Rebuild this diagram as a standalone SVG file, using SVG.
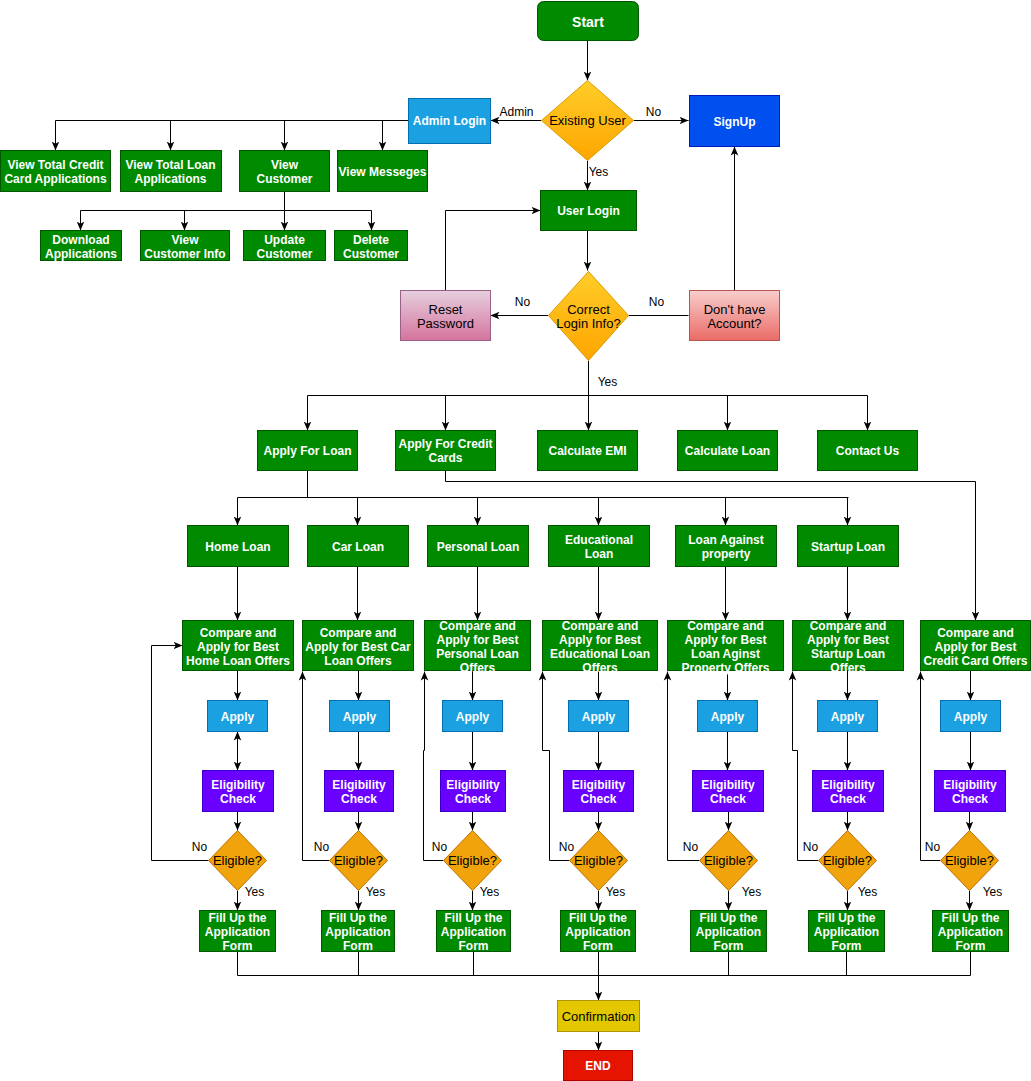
<svg xmlns="http://www.w3.org/2000/svg" width="1031" height="1081" viewBox="0 0 1031 1081">
<defs>
  <marker id="arr" viewBox="0 0 10 10" refX="10" refY="5" markerWidth="9" markerHeight="9" markerUnits="userSpaceOnUse" orient="auto-start-reverse">
    <path d="M0,0.8 L10,5 L0,9.2 L2.6,5 Z" fill="#000"/>
  </marker>
  <linearGradient id="gYel" x1="0" y1="0" x2="0" y2="1">
    <stop offset="0" stop-color="#ffcd28"/>
    <stop offset="1" stop-color="#ffa500"/>
  </linearGradient>
  <linearGradient id="gPink" x1="0" y1="0" x2="0" y2="1">
    <stop offset="0" stop-color="#e6d0de"/>
    <stop offset="1" stop-color="#d5739d"/>
  </linearGradient>
  <linearGradient id="gRed" x1="0" y1="0" x2="0" y2="1">
    <stop offset="0" stop-color="#f8cecc"/>
    <stop offset="1" stop-color="#ea6b66"/>
  </linearGradient>
  <style>
    .g { fill: #008a00; stroke: #005700; stroke-width: 1; }
    .b { fill: #1ba1e2; stroke: #006eaf; stroke-width: 1; }
    .bd { fill: #0050ef; stroke: #001dbc; stroke-width: 1; }
    .p { fill: #6a00ff; stroke: #3700cc; stroke-width: 1; }
    .o { fill: #f0a30a; stroke: #bd7000; stroke-width: 1; }
    .y { fill: url(#gYel); stroke: #d79b00; stroke-width: 1; }
    .pk { fill: url(#gPink); stroke: #996185; stroke-width: 1; }
    .rd { fill: url(#gRed); stroke: #b85450; stroke-width: 1; }
    .cf { fill: #e3c800; stroke: #b09500; stroke-width: 1; }
    .en { fill: #e51400; stroke: #b20000; stroke-width: 1; }
    .t { font-family: "Liberation Sans", Arial, sans-serif; font-size: 12px; font-weight: bold; fill: #ffffff; text-anchor: middle; }
    .k { font-family: "Liberation Sans", Arial, sans-serif; font-size: 13px; fill: #000000; text-anchor: middle; }
    .lb { font-family: "Liberation Sans", Arial, sans-serif; font-size: 12px; fill: #000000; text-anchor: middle; }
    .c { fill: none; stroke: #000000; stroke-width: 1; }
    .a { marker-end: url(#arr); }
  </style>
</defs>
<rect x="0" y="0" width="1031" height="1081" fill="#ffffff"/>
<g transform="translate(0.5 0.5)">

<!-- connectors -->
<g id="connectors">
  <path class="c a" d="M587,40 V80"/>
  <path class="c a" d="M541,120 H490"/>
  <path class="c a" d="M633,120 H688"/>
  <path class="c a" d="M587,160 V190"/>
  <path class="c a" d="M587,230 V270"/>
  <path class="c a" d="M548,315 H490"/>
  <path class="c" d="M688,315 H628"/>
  <path class="c a" d="M734,290 V146"/>
  <path class="c a" d="M445,290 V210 H540"/>

  <!-- admin branch -->
  <path class="c a" d="M408,120 H55 V150"/>
  <path class="c a" d="M170,120 V150"/>
  <path class="c a" d="M284,120 V150"/>
  <path class="c a" d="M382,120 V150"/>
  <path class="c a" d="M284,191 V210 H80 V230"/>
  <path class="c" d="M284,210 H371"/>
  <path class="c a" d="M184,210 V230"/>
  <path class="c a" d="M284,210 V230"/>
  <path class="c a" d="M371,210 V230"/>

  <!-- main menu -->
  <path class="c a" d="M588,360 V430"/>
  <path class="c" d="M307,395 H867"/>
  <path class="c a" d="M307,395 V430"/>
  <path class="c a" d="M445,395 V430"/>
  <path class="c a" d="M727,395 V430"/>
  <path class="c a" d="M867,395 V430"/>

  <!-- loan types -->
  <path class="c" d="M307,470 V497"/>
  <path class="c" d="M237,497 H848"/>
  <path class="c a" d="M237,497 V525"/>
  <path class="c a" d="M357,497 V525"/>
  <path class="c a" d="M477,497 V525"/>
  <path class="c a" d="M598,497 V525"/>
  <path class="c a" d="M725,497 V525"/>
  <path class="c a" d="M847,497 V525"/>
  <path class="c a" d="M445,470 V481 H975 V620"/>

  <!-- loan box to offers -->
  <path class="c a" d="M237,566 V620"/>
  <path class="c a" d="M357,566 V620"/>
  <path class="c a" d="M477,566 V620"/>
  <path class="c a" d="M598,566 V620"/>
  <path class="c a" d="M725,566 V620"/>
  <path class="c a" d="M847,566 V620"/>

  <!-- offers to apply -->
  <path class="c a" d="M237,670 V700"/>
  <path class="c a" d="M358,670 V700"/>
  <path class="c a" d="M472,670 V700"/>
  <path class="c a" d="M598,670 V700"/>
  <path class="c a" d="M727,670 V700"/>
  <path class="c a" d="M847,670 V700"/>
  <path class="c a" d="M970,670 V700"/>

  <!-- apply to eligibility -->
  <path class="c a" d="M237,731 V770" marker-start="url(#arr)"/>
  <path class="c a" d="M358,731 V770"/>
  <path class="c a" d="M472,731 V770"/>
  <path class="c a" d="M598,731 V770"/>
  <path class="c a" d="M727,731 V770"/>
  <path class="c a" d="M847,731 V770"/>
  <path class="c a" d="M970,731 V770"/>

  <!-- eligibility to decision -->
  <path class="c a" d="M237,811 V830"/>
  <path class="c a" d="M358,811 V830"/>
  <path class="c a" d="M472,811 V830"/>
  <path class="c a" d="M598,811 V830"/>
  <path class="c a" d="M728,811 V830"/>
  <path class="c a" d="M847,811 V830"/>
  <path class="c a" d="M969,811 V830"/>

  <!-- decision yes to form -->
  <path class="c a" d="M237,890 V910"/>
  <path class="c a" d="M358,890 V910"/>
  <path class="c a" d="M472,890 V910"/>
  <path class="c a" d="M598,890 V910"/>
  <path class="c a" d="M728,890 V910"/>
  <path class="c a" d="M847,890 V910"/>
  <path class="c a" d="M969,890 V910"/>

  <!-- decision no loops -->
  <path class="c a" d="M208,860 H151 V645 H182"/>
  <path class="c a" d="M329,860 H302 V671"/>
  <path class="c a" d="M443,860 H423 V750 H424 V671"/>
  <path class="c a" d="M569,860 H549 V750 H542 V671"/>
  <path class="c a" d="M699,860 H667 V671"/>
  <path class="c a" d="M818,860 H797 V750 H792 V671"/>
  <path class="c a" d="M940,860 H920 V671"/>

  <!-- forms merge to confirmation -->
  <path class="c" d="M237,951 V975 H970 V951"/>
  <path class="c" d="M358,951 V975"/>
  <path class="c" d="M473,951 V975"/>
  <path class="c" d="M728,951 V975"/>
  <path class="c" d="M846,951 V975"/>
  <path class="c a" d="M598,951 V1000"/>
  <path class="c a" d="M598,1031 V1050"/>

  <!-- edge labels -->
  <text class="lb" x="516" y="115">Admin</text>
  <text class="lb" x="653" y="115">No</text>
  <text class="lb" x="598" y="175">Yes</text>
  <text class="lb" x="522" y="305">No</text>
  <text class="lb" x="656" y="305">No</text>
  <text class="lb" x="607" y="385">Yes</text>
  <text class="lb" x="199" y="850">No</text><text class="lb" x="254" y="895">Yes</text>
  <text class="lb" x="321" y="850">No</text><text class="lb" x="375" y="895">Yes</text>
  <text class="lb" x="439" y="850">No</text><text class="lb" x="489" y="895">Yes</text>
  <text class="lb" x="566" y="850">No</text><text class="lb" x="615" y="895">Yes</text>
  <text class="lb" x="690" y="850">No</text><text class="lb" x="751" y="895">Yes</text>
  <text class="lb" x="810" y="850">No</text><text class="lb" x="867" y="895">Yes</text>
  <text class="lb" x="932" y="850">No</text><text class="lb" x="992" y="895">Yes</text>
</g>

<!-- entry and login -->
<g id="start"><rect class="g" x="537" y="1" width="101" height="39" rx="6"/><text class="t" x="587.5" y="26" style="font-size:14px">Start</text></g>
<g id="existing-user"><polygon class="y" points="587,80 633,120 587,160 541,120"/><text class="k" x="587" y="124.5">Existing User</text></g>
<g id="admin-login"><rect class="b" x="408" y="98" width="82" height="45"/><text class="t" x="449" y="124.5">Admin Login</text></g>
<g id="signup"><rect class="bd" x="689" y="95" width="90" height="51"/><text class="t" x="734" y="125">SignUp</text></g>
<g id="user-login"><rect class="g" x="540" y="190" width="96" height="40"/><text class="t" x="588" y="214.5">User Login</text></g>
<g id="correct-login"><polygon class="y" points="588,271 628,315 588,360 548,315"/><text class="k" x="588" y="313">Correct</text><text class="k" x="588" y="327">Login Info?</text></g>
<g id="reset-password"><rect class="pk" x="400" y="290" width="90" height="50"/><text class="k" x="445" y="313">Reset</text><text class="k" x="445" y="327">Password</text></g>
<g id="no-account"><rect class="rd" x="689" y="290" width="90" height="50"/><text class="k" x="734" y="313">Don't have</text><text class="k" x="734" y="327">Account?</text></g>

<!-- admin menu -->
<g id="view-cc-apps"><rect class="g" x="0" y="150" width="110" height="41"/><text class="t" x="55" y="168">View Total Credit</text><text class="t" x="55" y="182">Card Applications</text></g>
<g id="view-loan-apps"><rect class="g" x="120" y="150" width="101" height="41"/><text class="t" x="170" y="168">View Total Loan</text><text class="t" x="170" y="182">Applications</text></g>
<g id="view-customer"><rect class="g" x="239" y="150" width="90" height="41"/><text class="t" x="284" y="168">View</text><text class="t" x="284" y="182">Customer</text></g>
<g id="view-messages"><rect class="g" x="337" y="150" width="90" height="41"/><text class="t" x="382" y="175">View Messeges</text></g>
<g id="download-apps"><rect class="g" x="40" y="230" width="81" height="30"/><text class="t" x="80.5" y="243">Download</text><text class="t" x="80.5" y="257">Applications</text></g>
<g id="view-customer-info"><rect class="g" x="140" y="230" width="89" height="30"/><text class="t" x="184.5" y="243">View</text><text class="t" x="184.5" y="257">Customer Info</text></g>
<g id="update-customer"><rect class="g" x="243" y="230" width="82" height="30"/><text class="t" x="284" y="243">Update</text><text class="t" x="284" y="257">Customer</text></g>
<g id="delete-customer"><rect class="g" x="334" y="230" width="73" height="30"/><text class="t" x="370.5" y="243">Delete</text><text class="t" x="370.5" y="257">Customer</text></g>

<!-- user menu -->
<g id="apply-loan"><rect class="g" x="257" y="430" width="100" height="40"/><text class="t" x="307" y="454.5">Apply For Loan</text></g>
<g id="apply-cards"><rect class="g" x="395" y="430" width="100" height="40"/><text class="t" x="445" y="447.5">Apply For Credit</text><text class="t" x="445" y="461.5">Cards</text></g>
<g id="calc-emi"><rect class="g" x="537" y="430" width="100" height="40"/><text class="t" x="587" y="454.5">Calculate EMI</text></g>
<g id="calc-loan"><rect class="g" x="677" y="430" width="100" height="40"/><text class="t" x="727" y="454.5">Calculate Loan</text></g>
<g id="contact-us"><rect class="g" x="817" y="430" width="100" height="40"/><text class="t" x="867" y="454.5">Contact Us</text></g>

<!-- loan types -->
<g id="home-loan"><rect class="g" x="187" y="525" width="101" height="41"/><text class="t" x="237.5" y="550">Home Loan</text></g>
<g id="car-loan"><rect class="g" x="307" y="525" width="101" height="41"/><text class="t" x="357.5" y="550">Car Loan</text></g>
<g id="personal-loan"><rect class="g" x="427" y="525" width="101" height="41"/><text class="t" x="477.5" y="550">Personal Loan</text></g>
<g id="educational-loan"><rect class="g" x="548" y="525" width="101" height="41"/><text class="t" x="598.5" y="543">Educational</text><text class="t" x="598.5" y="557">Loan</text></g>
<g id="property-loan"><rect class="g" x="675" y="525" width="101" height="41"/><text class="t" x="725.5" y="543">Loan Against</text><text class="t" x="725.5" y="557">property</text></g>
<g id="startup-loan"><rect class="g" x="797" y="525" width="101" height="41"/><text class="t" x="847.5" y="550">Startup Loan</text></g>

<!-- offer comparison -->
<g id="offers-home"><rect class="g" x="182" y="620" width="111" height="50"/><text class="t" x="237.5" y="636">Compare and</text><text class="t" x="237.5" y="650">Apply for Best</text><text class="t" x="237.5" y="664">Home Loan Offers</text></g>
<g id="offers-car"><rect class="g" x="302" y="620" width="111" height="50"/><text class="t" x="357.5" y="636">Compare and</text><text class="t" x="357.5" y="650">Apply for Best Car</text><text class="t" x="357.5" y="664">Loan Offers</text></g>
<g id="offers-personal"><rect class="g" x="424" y="620" width="106" height="50"/><text class="t" x="477" y="629">Compare and</text><text class="t" x="477" y="643">Apply for Best</text><text class="t" x="477" y="657">Personal Loan</text><text class="t" x="477" y="671">Offers</text></g>
<g id="offers-educational"><rect class="g" x="542" y="620" width="115" height="50"/><text class="t" x="599.5" y="629">Compare and</text><text class="t" x="599.5" y="643">Apply for Best</text><text class="t" x="599.5" y="657">Educational Loan</text><text class="t" x="599.5" y="671">Offers</text></g>
<g id="offers-property"><rect class="g" x="667" y="620" width="116" height="50"/><text class="t" x="725" y="629">Compare and</text><text class="t" x="725" y="643">Apply for Best</text><text class="t" x="725" y="657">Loan Aginst</text><text class="t" x="725" y="671">Property Offers</text></g>
<g id="offers-startup"><rect class="g" x="792" y="620" width="111" height="50"/><text class="t" x="847.5" y="629">Compare and</text><text class="t" x="847.5" y="643">Apply for Best</text><text class="t" x="847.5" y="657">Startup Loan</text><text class="t" x="847.5" y="671">Offers</text></g>
<g id="offers-card"><rect class="g" x="920" y="620" width="110" height="50"/><text class="t" x="975" y="636">Compare and</text><text class="t" x="975" y="650">Apply for Best</text><text class="t" x="975" y="664">Credit Card Offers</text></g>

<!-- apply steps -->
<g id="apply-1"><rect class="b" x="207" y="700" width="60" height="31"/><text class="t" x="237" y="720">Apply</text></g>
<g id="apply-2"><rect class="b" x="329" y="700" width="60" height="31"/><text class="t" x="359" y="720">Apply</text></g>
<g id="apply-3"><rect class="b" x="442" y="700" width="60" height="31"/><text class="t" x="472" y="720">Apply</text></g>
<g id="apply-4"><rect class="b" x="568" y="700" width="60" height="31"/><text class="t" x="598" y="720">Apply</text></g>
<g id="apply-5"><rect class="b" x="697" y="700" width="60" height="31"/><text class="t" x="727" y="720">Apply</text></g>
<g id="apply-6"><rect class="b" x="817" y="700" width="60" height="31"/><text class="t" x="847" y="720">Apply</text></g>
<g id="apply-7"><rect class="b" x="940" y="700" width="60" height="31"/><text class="t" x="970" y="720">Apply</text></g>

<!-- eligibility checks -->
<g id="check-1"><rect class="p" x="202" y="770" width="71" height="41"/><text class="t" x="237.5" y="788">Eligibility</text><text class="t" x="237.5" y="802">Check</text></g>
<g id="check-2"><rect class="p" x="324" y="770" width="69" height="41"/><text class="t" x="358.5" y="788">Eligibility</text><text class="t" x="358.5" y="802">Check</text></g>
<g id="check-3"><rect class="p" x="440" y="770" width="65" height="41"/><text class="t" x="472.5" y="788">Eligibility</text><text class="t" x="472.5" y="802">Check</text></g>
<g id="check-4"><rect class="p" x="563" y="770" width="70" height="41"/><text class="t" x="598" y="788">Eligibility</text><text class="t" x="598" y="802">Check</text></g>
<g id="check-5"><rect class="p" x="692" y="770" width="71" height="41"/><text class="t" x="727.5" y="788">Eligibility</text><text class="t" x="727.5" y="802">Check</text></g>
<g id="check-6"><rect class="p" x="812" y="770" width="71" height="41"/><text class="t" x="847.5" y="788">Eligibility</text><text class="t" x="847.5" y="802">Check</text></g>
<g id="check-7"><rect class="p" x="934" y="770" width="71" height="41"/><text class="t" x="969.5" y="788">Eligibility</text><text class="t" x="969.5" y="802">Check</text></g>

<!-- eligibility decisions -->
<g id="eligible-1"><polygon class="o" points="237,830 266,860 237,890 208,860"/><text class="k" x="237" y="864.5">Eligible?</text></g>
<g id="eligible-2"><polygon class="o" points="358,830 387,860 358,890 329,860"/><text class="k" x="358" y="864.5">Eligible?</text></g>
<g id="eligible-3"><polygon class="o" points="472,830 501,860 472,890 443,860"/><text class="k" x="472" y="864.5">Eligible?</text></g>
<g id="eligible-4"><polygon class="o" points="598,830 627,860 598,890 569,860"/><text class="k" x="598" y="864.5">Eligible?</text></g>
<g id="eligible-5"><polygon class="o" points="728,830 757,860 728,890 699,860"/><text class="k" x="728" y="864.5">Eligible?</text></g>
<g id="eligible-6"><polygon class="o" points="847,830 876,860 847,890 818,860"/><text class="k" x="847" y="864.5">Eligible?</text></g>
<g id="eligible-7"><polygon class="o" points="969,830 998,860 969,890 940,860"/><text class="k" x="969" y="864.5">Eligible?</text></g>

<!-- application forms -->
<g id="form-1"><rect class="g" x="199" y="910" width="76" height="41"/><text class="t" x="237" y="921">Fill Up the</text><text class="t" x="237" y="935">Application</text><text class="t" x="237" y="949">Form</text></g>
<g id="form-2"><rect class="g" x="321" y="910" width="73" height="41"/><text class="t" x="357.5" y="921">Fill Up the</text><text class="t" x="357.5" y="935">Application</text><text class="t" x="357.5" y="949">Form</text></g>
<g id="form-3"><rect class="g" x="436" y="910" width="74" height="41"/><text class="t" x="473" y="921">Fill Up the</text><text class="t" x="473" y="935">Application</text><text class="t" x="473" y="949">Form</text></g>
<g id="form-4"><rect class="g" x="560" y="910" width="75" height="41"/><text class="t" x="597.5" y="921">Fill Up the</text><text class="t" x="597.5" y="935">Application</text><text class="t" x="597.5" y="949">Form</text></g>
<g id="form-5"><rect class="g" x="690" y="910" width="76" height="41"/><text class="t" x="728" y="921">Fill Up the</text><text class="t" x="728" y="935">Application</text><text class="t" x="728" y="949">Form</text></g>
<g id="form-6"><rect class="g" x="808" y="910" width="76" height="41"/><text class="t" x="846" y="921">Fill Up the</text><text class="t" x="846" y="935">Application</text><text class="t" x="846" y="949">Form</text></g>
<g id="form-7"><rect class="g" x="932" y="910" width="76" height="41"/><text class="t" x="970" y="921">Fill Up the</text><text class="t" x="970" y="935">Application</text><text class="t" x="970" y="949">Form</text></g>

<!-- finish -->
<g id="confirmation"><rect class="cf" x="557" y="1000" width="82" height="31"/><text class="k" x="598" y="1020">Confirmation</text></g>
<g id="end"><rect class="en" x="563" y="1050" width="69" height="30"/><text class="t" x="597.5" y="1069.5">END</text></g>
</g>
</svg>
